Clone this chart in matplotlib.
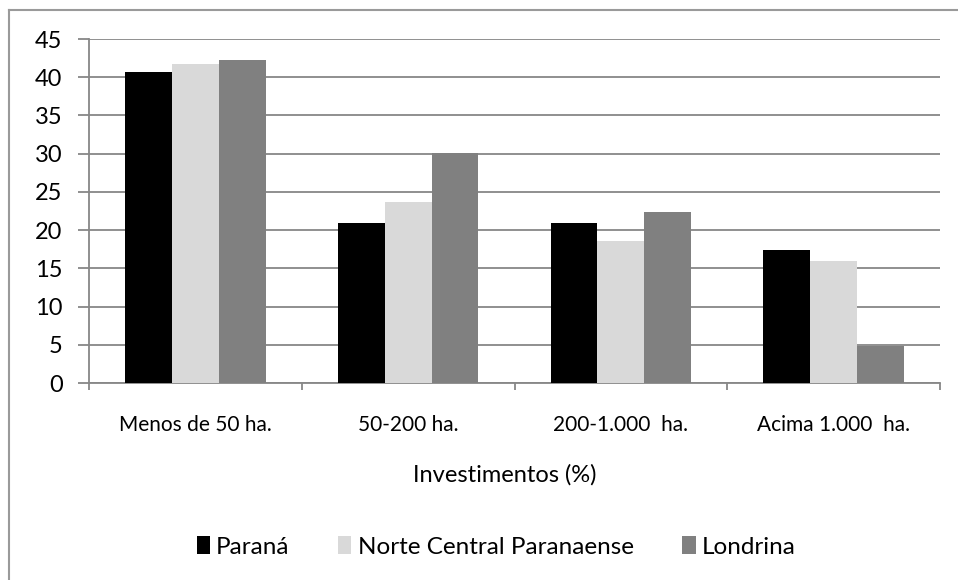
import numpy as np
import matplotlib.pyplot as plt
from matplotlib.lines import Line2D

plt.rcParams['font.family'] = ['Lato', 'DejaVu Sans']

categorias = ['Menos de 50 ha.', '50-200 ha.', '200-1.000  ha.', 'Acima 1.000  ha.']
series = ['Paraná', 'Norte Central Paranaense', 'Londrina']
parana = [40.7, 20.9, 20.9, 17.4]
norte_central = [41.7, 23.7, 18.6, 15.9]
londrina = [42.3, 30.1, 22.4, 4.9]
cores = ['#000000', '#d9d9d9', '#808080']

fig = plt.figure(figsize=(9.58, 5.8), dpi=100)
ax_base, ax_alt = 1 - 383 / 580, 344 / 580
ax = fig.add_axes([89 / 958, ax_base, 851 / 958, ax_alt])

x = np.arange(len(categorias))
largura = 0.22
for i, (valores, nome) in enumerate(zip([parana, norte_central, londrina], series)):
    ax.bar(x + (i - 1) * largura, valores, largura, color=cores[i], label=nome,
           zorder=3, linewidth=0)

ax.set_xlim(-0.5, len(categorias) - 0.5)
ax.set_ylim(0, 45)
ax.set_yticks(range(0, 50, 5))
ax.yaxis.grid(True, color='#878787', linewidth=1.3, zorder=0)
ax.set_axisbelow(True)

for lado in ['top', 'right']:
    ax.spines[lado].set_visible(False)
for lado in ['left', 'bottom']:
    ax.spines[lado].set_color('#878787')
    ax.spines[lado].set_linewidth(1.3)

ax.tick_params(axis='y', length=8, width=1.3, color='#878787', labelsize=17, pad=11)
ax.set_xticks(x)
ax.set_xticklabels(categorias, fontsize=15)
ax.set_xticks(np.arange(-0.5, len(categorias), 1), minor=True)
ax.tick_params(axis='x', which='major', length=0, pad=23)
ax.tick_params(axis='x', which='minor', length=5, width=1.3, color='#878787')

ax.set_xlabel('Investimentos (%)', fontsize=17, va='center')
ax.xaxis.set_label_coords(505 / 958, 1 - 475 / 580, transform=fig.transFigure)

ax.legend(loc='center', bbox_to_anchor=(496 / 958, 1 - 547 / 580), bbox_transform=fig.transFigure,
          ncol=3, frameon=False, fontsize=17.5, handlelength=0.55, handleheight=0.75,
          handletextpad=0.25, columnspacing=2.0)

# moldura cinza do gráfico
fig.add_artist(Line2D([9 / 958, 1], [1 - 10 / 580, 1 - 10 / 580], color='#9a9a9a', linewidth=1.5))
fig.add_artist(Line2D([9 / 958, 9 / 958], [0, 1 - 10 / 580], color='#9a9a9a', linewidth=1.5))

fig.savefig('out.png', dpi=100)
